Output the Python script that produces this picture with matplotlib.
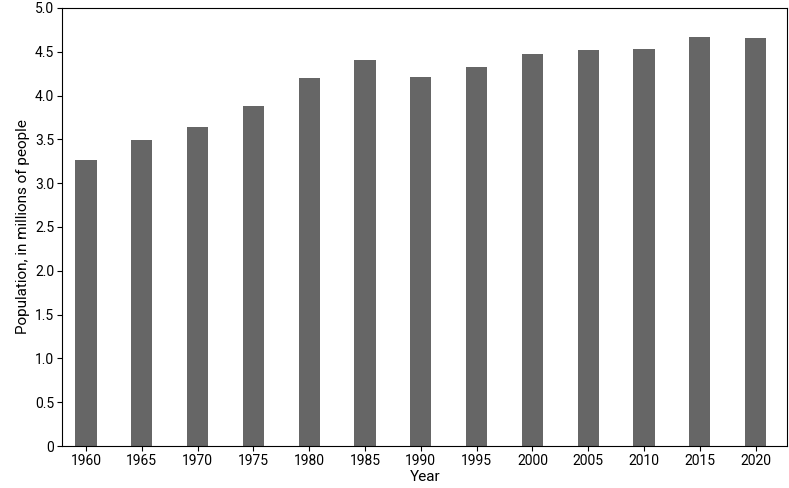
import matplotlib
matplotlib.use("Agg")
import matplotlib.pyplot as plt

years = [1960,1965,1970,1975,1980,1985,1990,1995,2000,2005,2010,2015,2020]
population = [3.26,3.49,3.64,3.88,4.20,4.41,4.21,4.33,4.47,4.52,4.53,4.67,4.66]

plt.rcParams['font.family'] = ['Liberation Sans Narrow', 'Roboto', 'DejaVu Sans']
fig = plt.figure(figsize=(7.89,4.88), dpi=100)
ax = fig.add_axes([62/789, 1-446/488, 727/789-0.002, 438/488])
x = list(range(len(years)))
ax.bar(x, population, width=0.38, color='#666666')
ax.set_xticks(x)
ax.set_xticklabels([str(y) for y in years])
ax.set_xlim(-0.43, len(years)-1+0.57)
ax.set_ylim(0,5)
ax.set_yticks([i*0.5 for i in range(11)])
ax.set_yticklabels(['0']+[f"{i*0.5:.1f}" for i in range(1,11)])
ax.tick_params(labelsize=10, pad=2)
ax.set_xlabel('Year', fontsize=11, labelpad=2)
ax.set_ylabel('Population, in millions of people', fontsize=11)
fig.savefig('out.png', dpi=100)
